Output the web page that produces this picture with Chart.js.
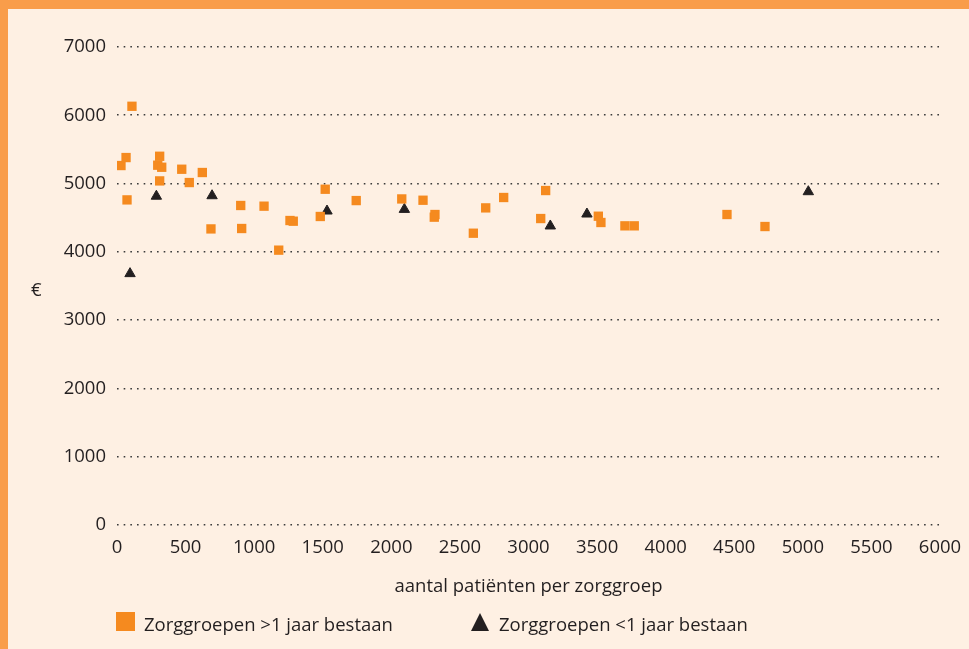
<!DOCTYPE html>
<html>
<head>
<meta charset="utf-8">
<script src="https://cdn.jsdelivr.net/npm/chart.js@4.4.1/dist/chart.umd.min.js"></script>
<style>
  html, body { margin: 0; padding: 0; }
  body { width: 969px; height: 649px; background: #FEF0E3; position: relative; overflow: hidden;
         font-family: "Open Sans", sans-serif; color: #231F20; }
  #topbar { position: absolute; left: 0; top: 0; width: 969px; height: 9px; background: #F99D4A; }
  #leftbar { position: absolute; left: 0; top: 0; width: 8px; height: 649px; background: #F99D4A; }
  #wrap { position: absolute; left: 0; top: 0; width: 969px; height: 649px; }
  .lab { position: absolute; font-size: 18.5px; line-height: 18.5px; white-space: nowrap; color: #231F20; }
  #sq { position: absolute; left: 116px; top: 612px; width: 19px; height: 19px; background: #F58A1F; }
  #tri { position: absolute; left: 471px; top: 613px; width: 0; height: 0;
         border-left: 9px solid transparent; border-right: 9px solid transparent; border-bottom: 18px solid #231F20; }
</style>
</head>
<body>
<div id="topbar"></div>
<div id="leftbar"></div>
<div id="wrap"><canvas id="c"></canvas></div>
<span class="lab" id="euro" style="left:31px; top:280px;">€</span>
<div id="sq"></div>
<span class="lab" style="left:144px; top:615px;">Zorggroepen &gt;1 jaar bestaan</span>
<div id="tri"></div>
<span class="lab" style="left:499px; top:615px;">Zorggroepen &lt;1 jaar bestaan</span>
<script>
// Zorggroepen >1 jaar bestaan (squares)
const oldX = [29, 66, 73, 109, 297, 311, 326, 311, 472, 527, 622, 685, 902, 909, 1072, 1179, 1261, 1285,
              1482, 1518, 1744, 2076, 2231, 2318, 2313, 2598, 2688, 2819, 3089, 3125, 3509, 3528, 3703, 3771, 4447, 4724];
const oldY = [5264, 5381, 4761, 6132, 5269, 5400, 5239, 5039, 5210, 5015, 5162, 4336, 4679, 4342, 4669, 4025, 4459, 4449,
              4518, 4917, 4751, 4775, 4756, 4547, 4508, 4273, 4644, 4796, 4488, 4898, 4522, 4430, 4381, 4381, 4547, 4371];
// Zorggroepen <1 jaar bestaan (triangles)
const newX = [95, 287, 693, 1531, 2095, 3159, 3426, 5040];
const newY = [3681, 4815, 4822, 4598, 4622, 4379, 4554, 4881];

const xTicks = [0, 500, 1000, 1500, 2000, 2500, 3000, 3500, 4000, 4500, 5000, 5500, 6000];
const yTicks = [0, 1000, 2000, 3000, 4000, 5000, 6000, 7000];
const seriesNames = ['Zorggroepen >1 jaar bestaan', 'Zorggroepen <1 jaar bestaan'];
const xTitle = 'aantal patiënten per zorggroep';

const toPts = (xs, ys) => xs.map((x, i) => ({ x: x, y: ys[i] }));
const font = { family: 'Open Sans', size: 18.5 };
const plain = (v) => String(v);

new Chart(document.getElementById('c'), {
  type: 'scatter',
  data: {
    datasets: [
      { label: seriesNames[0], data: toPts(oldX, oldY), pointStyle: 'rect', pointRadius: 6.6,
        backgroundColor: '#F58A1F', borderColor: '#F58A1F', borderWidth: 0, pointHoverRadius: 6.6 },
      { label: seriesNames[1], data: toPts(newX, newY), pointStyle: 'triangle', pointRadius: 6,
        backgroundColor: '#231F20', borderColor: '#231F20', borderWidth: 1, pointHoverRadius: 6 }
    ]
  },
  options: {
    responsive: true,
    maintainAspectRatio: false,
    animation: false,
    layout: { padding: { left: 0, right: 29, top: 47, bottom: 51 } },
    plugins: { legend: { display: false }, tooltip: { enabled: false } },
    scales: {
      x: {
        type: 'linear', min: 0, max: 6000,
        afterBuildTicks: (s) => { s.ticks = xTicks.map(v => ({ value: v })); },
        afterFit: (s) => { s.height = 73; s.paddingLeft = 0; s.paddingRight = 0; },
        grid: { display: false, drawTicks: false },
        border: { display: false },
        ticks: { font: font, color: '#231F20', padding: 12, maxRotation: 0, autoSkip: false, callback: plain },
        title: { display: true, text: xTitle, font: font, color: '#231F20', padding: { top: 0, bottom: 0 } }
      },
      y: {
        type: 'linear', min: 0, max: 7000,
        afterBuildTicks: (s) => { s.ticks = yTicks.map(v => ({ value: v })); },
        afterFit: (s) => { s.width = 117; s.paddingTop = 0; s.paddingBottom = 0; },
        grid: { color: '#3a3a3a', lineWidth: 1.6, drawTicks: false },
        border: { display: false, dash: [1.6, 5.07] },
        ticks: { font: font, color: '#231F20', padding: 11, callback: plain }
      }
    }
  }
});
</script>
</body>
</html>
